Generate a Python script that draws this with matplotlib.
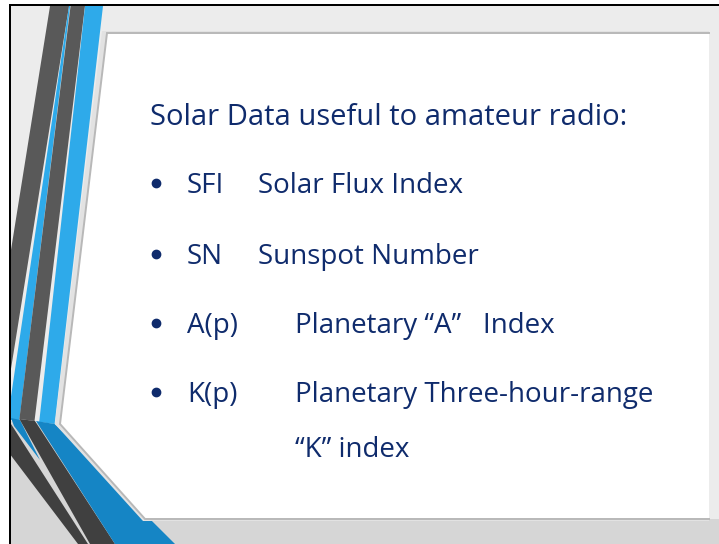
import matplotlib.pyplot as plt
from matplotlib.patches import Polygon, Rectangle

# slide text
title = "Solar Data useful to amateur radio:"
abbrevs = ["SFI", "SN", "A(p)", "K(p)"]
meanings = ["Solar Flux Index", "Sunspot Number", "Planetary \u201cA\u201d   Index",
            "Planetary Three-hour-range"]
extra_line = "\u201cK\u201d index"

# colours
text_col = '#0f2b6c'
bg_col = '#ececec'
low_bg = '#d6d6d6'
dark_up = '#595959'
dark_low = '#404040'
blue_up = '#2eaaea'
blue_low = '#1585c5'

plt.rcParams['font.family'] = ['Open Sans', 'DejaVu Sans']
fs = 20

fig = plt.figure(figsize=(7.19, 5.44), dpi=100)
ax = fig.add_axes([0, 0, 1, 1])
ax.set_xlim(0, 719)
ax.set_ylim(544, 0)
ax.axis('off')

def poly(pts, col, z):
    ax.add_patch(Polygon(pts, closed=True, facecolor=col, edgecolor='none', zorder=z))

# background
ax.add_patch(Rectangle((0, 0), 719, 544, facecolor=bg_col, edgecolor='none', zorder=0))
poly([(0, 420), (60, 425), (145, 519), (719, 519), (719, 544), (0, 544)], low_bg, 1)

# upper stripes
poly([(51, 0), (70, 0), (2.8, 420), (-16.2, 420)], dark_up, 2)
poly([(69.9, 0), (70.9, 0), (19.4, 420), (7.5, 420)], blue_up, 2)
poly([(71.3, 0), (85.7, 0), (34.5, 421), (19.4, 419)], dark_up, 2)
poly([(85.7, 0), (103.7, 0), (54.6, 424), (39.2, 422)], blue_up, 2)

# lower stripes after the bend
poly([(0, 416), (11, 424), (88, 544), (78, 544), (0, 441)], dark_low, 3)
poly([(11, 418), (20, 420), (40, 460), (14, 426)], blue_low, 3)
poly([(19.4, 419), (35, 421), (115, 544), (90, 544)], dark_low, 3)
poly([(36, 421), (54.6, 424), (175, 544), (115, 544)], blue_low, 3)

# card shadow band + card
poly([(102, 31), (709, 31), (709, 521), (143, 521), (55, 424)], '#e2e2e2', 4)
card = [(107, 33), (709, 33), (709, 519), (145, 519), (60, 424)]
poly(card, 'white', 5)
ex = [709, 107, 60, 145, 709]
ey = [33, 33, 424, 519, 519]
ax.plot(ex, ey, color='#b8b8b8', lw=1.4, zorder=6, solid_joinstyle='miter')

# text
ax.text(150, 125, title, color=text_col, fontsize=21, va='baseline', zorder=7)
base = [193, 264, 333, 402]
mx = [258, 258, 295, 295]
for i in range(len(abbrevs)):
    ax.plot(155.5, base[i] - 10, 'o', color=text_col, markersize=6, zorder=7)
    ax.text(187, base[i], abbrevs[i], color=text_col, fontsize=fs, va='baseline', zorder=7)
    ax.text(mx[i], base[i], meanings[i], color=text_col, fontsize=fs, va='baseline', zorder=7)
ax.text(295, 457, extra_line, color=text_col, fontsize=fs, va='baseline', zorder=7)

# outer margin and black frame
ax.add_patch(Rectangle((0, 0), 9, 544, facecolor='white', edgecolor='none', zorder=8))
ax.add_patch(Rectangle((0, 0), 719, 4, facecolor='white', edgecolor='none', zorder=8))
ax.add_patch(Rectangle((9, 4), 2, 540, facecolor='black', edgecolor='none', zorder=9))
ax.add_patch(Rectangle((9, 4), 710, 2, facecolor='black', edgecolor='none', zorder=9))

fig.savefig('out.png', dpi=100)
